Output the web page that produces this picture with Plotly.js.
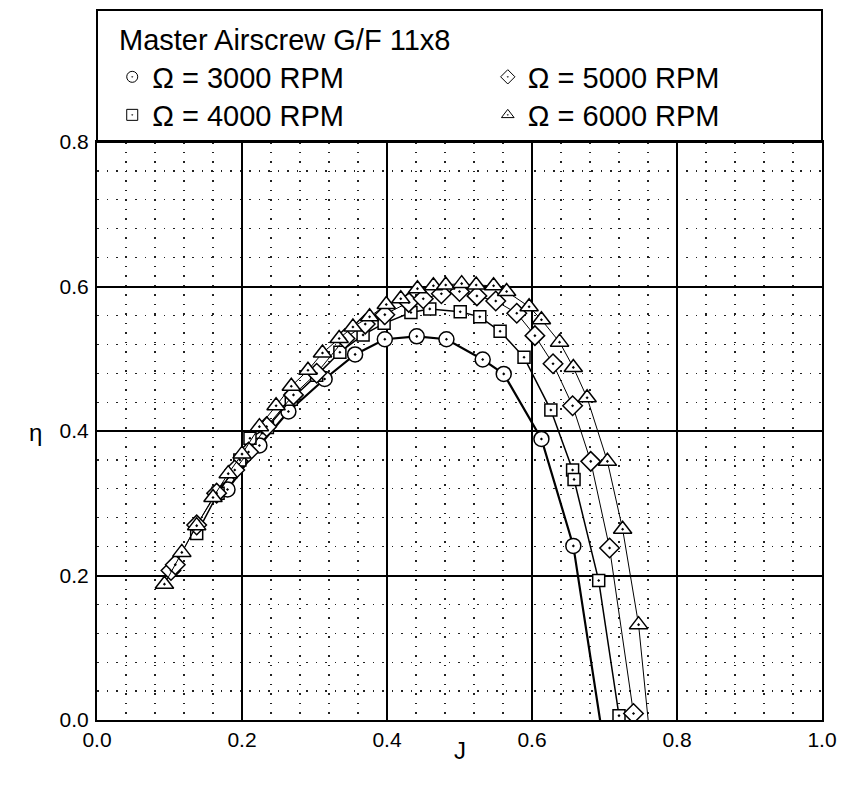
<!DOCTYPE html>
<html>
<head>
<meta charset="utf-8">
<script src="https://cdn.plot.ly/plotly-3.0.1.min.js"></script>
<style>html,body{margin:0;padding:0;background:#fff;}#chart{width:844px;height:788px;}</style>
</head>
<body>
<div id="chart"></div>
<script>
// Data (J = advance ratio, eta = efficiency)
const j3000 = [0.180, 0.224, 0.264, 0.314, 0.356, 0.397, 0.441, 0.482, 0.532, 0.561, 0.613, 0.657, 0.700];
const e3000 = [0.319, 0.380, 0.427, 0.472, 0.506, 0.527, 0.531, 0.527, 0.499, 0.479, 0.389, 0.241, -0.040];

const j4000 = [0.1375, 0.167, 0.197, 0.211, 0.235, 0.268, 0.303, 0.335, 0.367, 0.396, 0.433, 0.459, 0.501, 0.528, 0.556, 0.589, 0.626, 0.656, 0.658, 0.692, 0.720];
const e4000 = [0.258, 0.314, 0.360, 0.390, 0.405, 0.444, 0.477, 0.509, 0.533, 0.549, 0.564, 0.569, 0.565, 0.558, 0.538, 0.502, 0.429, 0.346, 0.333, 0.193, 0.006];

const j5000 = [0.102, 0.108, 0.1375, 0.165, 0.190, 0.209, 0.234, 0.271, 0.303, 0.342, 0.370, 0.397, 0.430, 0.450, 0.475, 0.500, 0.524, 0.550, 0.579, 0.604, 0.629, 0.656, 0.681, 0.707, 0.740];
const e5000 = [0.207, 0.215, 0.270, 0.314, 0.346, 0.371, 0.406, 0.450, 0.480, 0.528, 0.548, 0.561, 0.578, 0.583, 0.590, 0.593, 0.587, 0.580, 0.563, 0.532, 0.493, 0.435, 0.358, 0.238, 0.009];

const j6000 = [0.093, 0.117, 0.1375, 0.160, 0.181, 0.200, 0.224, 0.247, 0.268, 0.291, 0.311, 0.334, 0.353, 0.376, 0.399, 0.419, 0.442, 0.464, 0.481, 0.503, 0.523, 0.547, 0.565, 0.596, 0.613, 0.638, 0.657, 0.676, 0.704, 0.725, 0.747, 0.762];
const e6000 = [0.188, 0.232, 0.269, 0.308, 0.341, 0.368, 0.406, 0.435, 0.462, 0.484, 0.508, 0.528, 0.544, 0.558, 0.575, 0.583, 0.597, 0.601, 0.602, 0.604, 0.602, 0.601, 0.593, 0.572, 0.554, 0.523, 0.488, 0.446, 0.358, 0.264, 0.132, -0.018];

const seriesNames = ['Ω = 3000 RPM', 'Ω = 4000 RPM', 'Ω = 5000 RPM', 'Ω = 6000 RPM'];
const chartTitle = 'Master Airscrew G/F 11x8';
const xTickVals = [0.0, 0.2, 0.4, 0.6, 0.8, 1.0];
const xTickText = ['0.0', '0.2', '0.4', '0.6', '0.8', '1.0'];
const yTickVals = [0.0, 0.2, 0.4, 0.6, 0.8];
const yTickText = ['0.0', '0.2', '0.4', '0.6', '0.8'];

const FONT = 'Liberation Sans, Arial, Helvetica, sans-serif';
const symbols = ['circle-dot', 'square-dot', 'diamond-dot', 'triangle-up-dot'];
const sizes = [15, 12, 15, 16];
const lwidths = [2.2, 1.5, 1, 1];
const legendIds = ['legend', 'legend3', 'legend2', 'legend4'];
const xs = [j3000, j4000, j5000, j6000];
const ys = [e3000, e4000, e5000, e6000];

const traces = [];
for (let i = 0; i < 4; i++) {
  traces.push({
    x: xs[i], y: ys[i], type: 'scatter', mode: 'lines+markers',
    showlegend: false,
    line: {color: '#000', width: lwidths[i]},
    marker: {symbol: symbols[i], size: sizes[i], color: '#fff', line: {color: '#000', width: 1.5}},
    cliponaxis: true
  });
}
// legend-only entries (small symbols as in the reference legend)
for (let i = 0; i < 4; i++) {
  traces.push({
    x: [null], y: [null], type: 'scatter', mode: 'markers',
    name: seriesNames[i], legend: legendIds[i], showlegend: true,
    marker: {symbol: symbols[i], size: 11, color: '#fff', line: {color: '#000', width: 1}}
  });
}

const legBase = {
  font: {family: FONT, size: 29, color: '#000'},
  bgcolor: 'rgba(0,0,0,0)', borderwidth: 0,
  xanchor: 'left', yanchor: 'middle', itemwidth: 30
};
const col1 = 0.021, col2 = 0.539, row1 = 1.1125, row2 = 1.0467;

const layout = {
  width: 844, height: 788,
  margin: {l: 97, r: 22, t: 142, b: 68},
  paper_bgcolor: '#fff', plot_bgcolor: '#fff',
  font: {family: FONT, color: '#000'},
  xaxis: {
    range: [0, 1], tickvals: xTickVals, ticktext: xTickText,
    tickfont: {family: FONT, size: 21, color: '#000'},
    showgrid: true, gridcolor: '#000', gridwidth: 2,
    showline: true, linecolor: '#000', linewidth: 2, mirror: true,
    ticks: '', zeroline: false,
    minor: {dtick: 0.04, tick0: 0, showgrid: true, gridcolor: '#222', gridwidth: 1.2, griddash: '1.5px,8px'}
  },
  yaxis: {
    range: [0, 0.8], tickvals: yTickVals, ticktext: yTickText,
    tickfont: {family: FONT, size: 21, color: '#000'},
    showgrid: true, gridcolor: '#000', gridwidth: 2,
    showline: true, linecolor: '#000', linewidth: 2, mirror: true,
    ticks: '', zeroline: false, ticklabelstandoff: 2,
    minor: {dtick: 0.04, tick0: 0, showgrid: true, gridcolor: '#222', gridwidth: 1.2, griddash: '1.5px,8px'}
  },
  legend: Object.assign({}, legBase, {x: col1, y: row1}),
  legend2: Object.assign({}, legBase, {x: col2, y: row1}),
  legend3: Object.assign({}, legBase, {x: col1, y: row2}),
  legend4: Object.assign({}, legBase, {x: col2, y: row2}),
  shapes: [{
    type: 'rect', xref: 'paper', yref: 'paper',
    x0: 0, x1: 1, y0: 1, y1: 1.2284,
    line: {color: '#000', width: 2}, fillcolor: 'rgba(0,0,0,0)', layer: 'above'
  }],
  annotations: [
    {text: chartTitle, xref: 'paper', yref: 'paper', x: 0.027, y: 1.1765,
     xanchor: 'left', yanchor: 'middle', showarrow: false,
     font: {family: FONT, size: 29, color: '#000'}},
    {text: 'η', xref: 'paper', yref: 'paper', x: -0.085, y: 0.498,
     xanchor: 'center', yanchor: 'middle', showarrow: false,
     font: {family: FONT, size: 24, color: '#000'}},
    {text: 'J', xref: 'paper', yref: 'paper', x: 0.5, y: -0.052,
     xanchor: 'center', yanchor: 'middle', showarrow: false,
     font: {family: FONT, size: 24, color: '#000'}}
  ]
};

Plotly.newPlot('chart', traces, layout, {staticPlot: true});
</script>
</body>
</html>
